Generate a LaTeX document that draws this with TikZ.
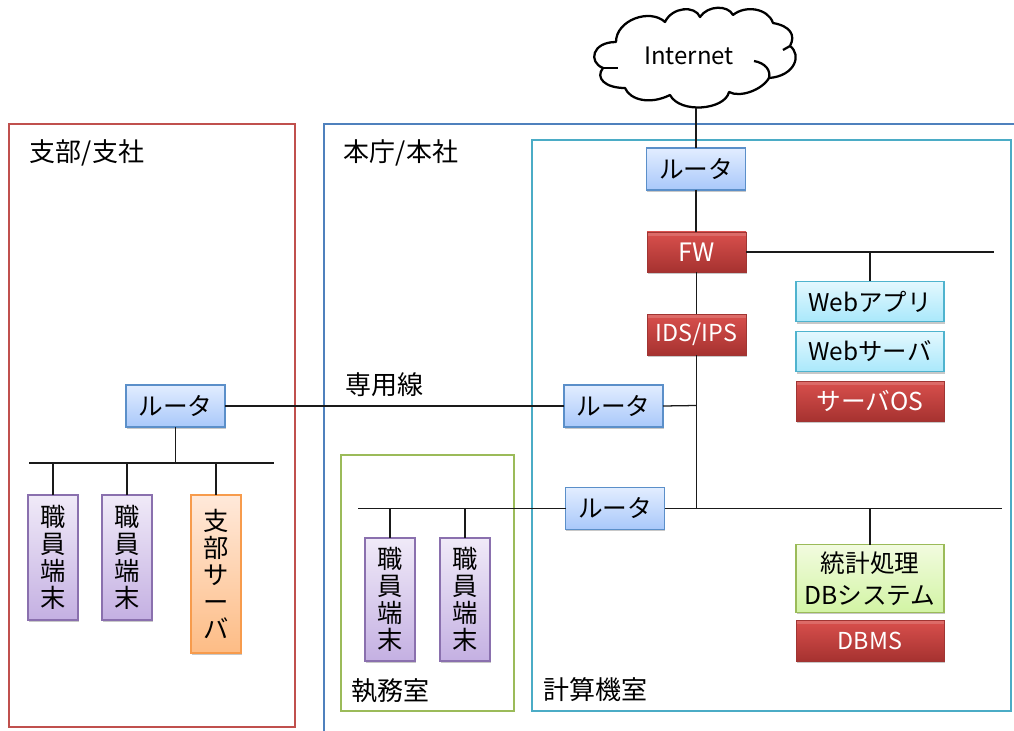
\documentclass[tikz,border=0pt]{standalone}
\usepackage{fontspec}
\setmainfont{Noto Sans CJK JP}
\usetikzlibrary{shadows,calc}
\definecolor{lnk}{HTML}{1A1A1A}
\definecolor{HTMLred}{HTML}{C0504D}\definecolor{HTMLblue}{HTML}{4F81BD}\definecolor{HTMLteal}{HTML}{4BACC6}\definecolor{HTMLgreen}{HTML}{9BBB59}
\definecolor{HTMLrt}{HTML}{5B8FC9}\definecolor{HTMLrta}{HTML}{E2EDFF}\definecolor{HTMLrtb}{HTML}{A9C8FA}
\definecolor{HTMLrd}{HTML}{A03533}\definecolor{HTMLrda}{HTML}{D9504D}\definecolor{HTMLrdb}{HTML}{A63230}
\definecolor{HTMLcy}{HTML}{4FB3CE}\definecolor{HTMLcya}{HTML}{E4F8FE}\definecolor{HTMLcyb}{HTML}{A9E8FB}
\definecolor{HTMLgr}{HTML}{9BBB59}\definecolor{HTMLgra}{HTML}{F2FBDF}\definecolor{HTMLgrb}{HTML}{D2F4A4}
\definecolor{HTMLpu}{HTML}{8A70AE}\definecolor{HTMLpua}{HTML}{F0EAF8}\definecolor{HTMLpub}{HTML}{C4B0E2}
\definecolor{HTMLor}{HTML}{F79B4C}\definecolor{HTMLora}{HTML}{FFE9DA}\definecolor{HTMLorb}{HTML}{FDBC85}
\tikzset{
  x=0.75pt,y=-0.75pt,
  frame/.style={draw=#1,line width=2.18pt,fill=none},
  lnkline/.style={draw=lnk,line width=0.95pt},
  cloudline/.style={line width=1.7pt,line join=round},
  boxbase/.style={minimum width=#1*0.75pt,inner sep=0pt,outer sep=0pt,line width=0.85pt,
    drop shadow={shadow xshift=0.5pt,shadow yshift=-1.3pt,opacity=0.3,fill=black!70}},
  rt/.style={boxbase=99,minimum height=31.5pt,draw=HTMLrt,top color=HTMLrta,bottom color=HTMLrtb,font=\fontsize{18.5}{18.5}\selectfont},
  redb/.style 2 args={minimum height=#1*0.75pt,draw=HTMLrd,top color=HTMLrda,bottom color=HTMLrdb,text=white,line width=0.5pt,font=\fontsize{#2}{#2}\selectfont,
    path picture={\fill[white,opacity=.16] (path picture bounding box.north west) rectangle ([yshift=-3pt]path picture bounding box.north east);}},
  cy/.style={boxbase=148,minimum height=30.5pt,draw=HTMLcy,top color=HTMLcya,bottom color=HTMLcyb,font=\fontsize{18.3}{18.3}\selectfont},
  grn/.style={boxbase=148,minimum height=50.5pt,draw=HTMLgr,top color=HTMLgra,bottom color=HTMLgrb,font=\fontsize{18.5}{24}\selectfont,align=center},
  pur/.style={boxbase=50,minimum height=#1*0.75pt,draw=HTMLpu,top color=HTMLpua,bottom color=HTMLpub,font=\fontsize{19}{20.3}\selectfont,align=center},
  org/.style={boxbase=50,minimum height=#1*0.75pt,draw=HTMLor,top color=HTMLora,bottom color=HTMLorb,font=\fontsize{19}{20.3}\selectfont,align=center},
  lab/.style={inner sep=0pt,font=\fontsize{19.5}{19.5}\selectfont},
}
\begin{document}
\begin{tikzpicture}
\useasboundingbox (0,0) rectangle (1014,731);
\fill[white] (0,0) rectangle (1014,731);
% frames
\draw[frame={HTMLred}] (9,124) rectangle (295,727);
\draw[frame={HTMLblue}] (324,740) -- (324,124) -- (1020,124);
\draw[frame={HTMLteal}] (532,140) rectangle (1011,711);
\draw[frame={HTMLgreen}] (341,455) rectangle (514,711);
% nodes
\node[rt] (r1) at (696,169) {ルータ};
\node[boxbase=99,redb={40}{19}] (fw) at (696.5,252) {FW};
\node[boxbase=99,redb={41}{17.5}] (ids) at (696.5,334.5) {IDS/IPS};
\node[cy] (wapp) at (870,301.5) {Webアプリ};
\node[cy] (wsv) at (870,351.5) {Webサーバ};
\node[boxbase=148,redb={40}{18.5}] (os) at (870,401) {サーバOS};
\node[rt] (r2) at (613.5,406) {ルータ};
\node[rt] (r3) at (615,508.5) {ルータ};
\node[rt] (r4) at (175.5,406) {ルータ};
\node[grn] (db) at (870,578.5) {統計処理\\DBシステム};
\node[boxbase=148,redb={41}{17.5}] (dbms) at (870,640.5) {DBMS};
\node[pur=125] (t1) at (53,557.5) {職\\員\\端\\末};
\node[pur=125] (t2) at (127,557.5) {職\\員\\端\\末};
\node[org=158] (sv) at (216,574) {支\\部\\サ\\ー\\バ};
\node[pur=123] (t3) at (390,599.5) {職\\員\\端\\末};
\node[pur=123] (t4) at (465,599.5) {職\\員\\端\\末};
% labels
\node[lab] (l1) at (87,153) {支部/支社};
\node[lab] (l2) at (401,152.5) {本庁/本社};
\node[lab] (l3) at (384,385) {専用線};
\node[lab] (l4) at (390,691) {執務室};
\node[lab] (l5) at (595,690) {計算機室};
% cloud
\coordinate (cloudb) at (696,108);
\draw[cloudline,fill=white]
  (616,42) .. controls (616,20) and (650,8) .. (665,22)
  .. controls (672,7) and (695,5) .. (700,17)
  .. controls (708,5) and (728,5) .. (733,15)
  .. controls (745,5) and (768,8) .. (773,23)
  .. controls (790,26) and (796,35) .. (790,46)
  .. controls (802,55) and (795,76) .. (769,78)
  .. controls (762,90) and (740,98) .. (729,92)
  .. controls (725,110) and (680,114) .. (670,95)
  .. controls (650,105) and (630,100) .. (625,88)
  .. controls (605,88) and (595,78) .. (603,68)
  .. controls (588,62) and (592,42) .. (616,42) -- cycle;
\draw[cloudline] (754,61) .. controls (765,63) and (771,70) .. (769,78);
\draw[cloudline] (603,68) -- (618,68);
\draw[cloudline] (790,46) -- (783,50);
\node[inner sep=0pt,font=\fontsize{18}{18}\selectfont] (inet) at (689,56) {Internet};
% coordinates
\coordinate (fwe) at (994,252);
\coordinate (fwb) at (870,252);
\coordinate (j2) at (696.5,405.5);
\coordinate (j3) at (696.5,508.5);
\coordinate (r3e) at (1002,508.5);
\coordinate (r3w) at (358,508.5);
\coordinate (b3a) at (390,508.5);
\coordinate (b3b) at (465,508.5);
\coordinate (dbb) at (870,508.5);
\coordinate (busL) at (29,463);
\coordinate (busR) at (274,463);
\coordinate (b4) at (175.5,463);
\coordinate (bt1) at (53,463);
\coordinate (bt2) at (127,463);
\coordinate (bsv) at (216,463);
% connectors
\draw[lnkline] (cloudb) -- (r1.north);
\draw[lnkline] (r1.south) -- (r1.south|-fw.north);
\draw[lnkline] (fw.south) -- (ids.north);
\draw[lnkline] (ids.south) -- (j3);
\draw[lnkline] (fw.east) -- (fwe);
\draw[lnkline] (fwb) -- (wapp.north);
\draw[lnkline] (r2.east) -- (j2);
\draw[lnkline] (r2.west) -- (r4.east);
\draw[lnkline] (r3.east) -- (r3e);
\draw[lnkline] (r3.west) -- (r3w);
\draw[lnkline] (b3a) -- (t3.north);
\draw[lnkline] (b3b) -- (t4.north);
\draw[lnkline] (dbb) -- (db.north);
\draw[lnkline] (r4.south) -- (b4);
\draw[lnkline] (busL) -- (busR);
\draw[lnkline] (bt1) -- (t1.north);
\draw[lnkline] (bt2) -- (t2.north);
\draw[lnkline] (bsv) -- (sv.north);
\end{tikzpicture}
\end{document}
